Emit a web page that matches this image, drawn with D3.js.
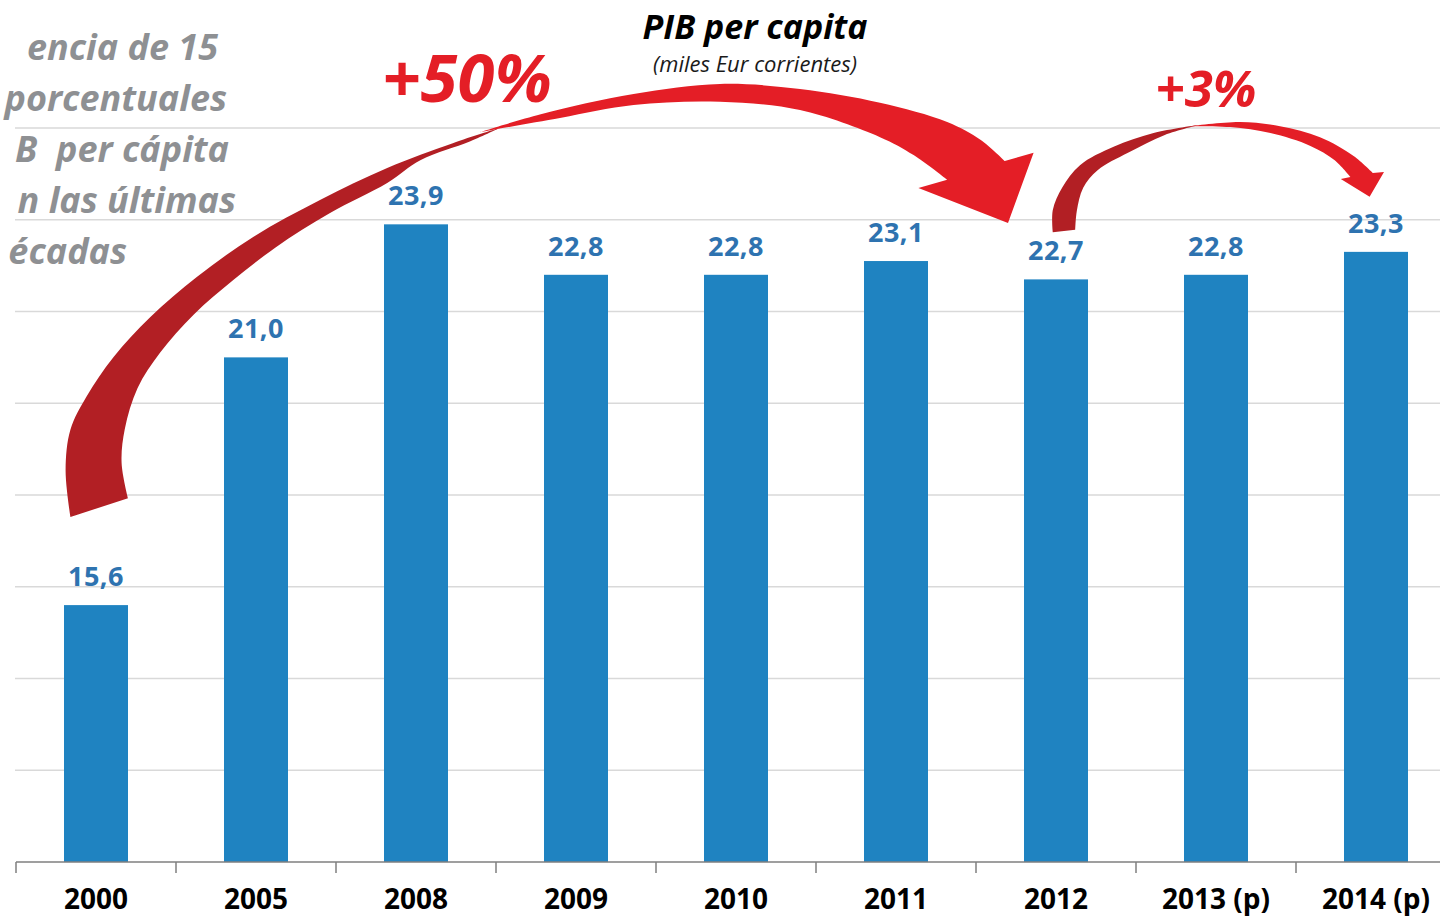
<!DOCTYPE html>
<html>
<head>
<meta charset="utf-8">
<script src="https://cdn.jsdelivr.net/npm/d3@7"></script>
<style>
  html, body { margin: 0; padding: 0; background: #fff; overflow: hidden; }
  text { font-family: "Open Sans", sans-serif; }
</style>
</head>
<body>
<svg id="chart" width="1440" height="918"></svg>
<script>
// data
const years = ["2000", "2005", "2008", "2009", "2010", "2011", "2012", "2013 (p)", "2014 (p)"]
const values = [15.6, 21.0, 23.9, 22.8, 22.8, 23.1, 22.7, 22.8, 23.3]
const gridValues = [12, 14, 16, 18, 20, 22, 24, 26]
// the note is cut by the left edge of the picture; only the visible part is kept
const noteLines = ["encia de 15", "porcentuales", "B  per cápita", "n las últimas", "écadas"]
const bigChange = "+50%"
const smallChange = "+3%"

// arrow outlines, as [bar offset from the first bar centre, value] pairs
const bigDarkOuter = [[-0.16, 17.52], [-0.19, 18.54], [-0.16, 19.42], [-0.06, 20.14], [0.11, 21.01], [0.34, 21.88],
  [0.63, 22.75], [0.98, 23.62], [1.40, 24.43], [1.82, 25.13], [2.23, 25.67], [2.53, 26.01]]
const bigDarkInner = [[2.53, 26.01], [2.34, 25.71], [2.03, 25.30], [1.82, 24.80], [1.46, 24.14], [1.12, 23.39],
  [0.86, 22.69], [0.61, 21.93], [0.40, 21.10], [0.26, 20.33], [0.18, 19.44], [0.16, 18.70], [0.20, 17.93]]
const bigRedUpper = [[2.40, 25.91], [2.78, 26.30], [3.36, 26.74], [3.90, 26.96], [4.40, 26.85], [4.90, 26.55],
  [5.32, 26.13], [5.53, 25.74], [5.68, 25.28]]
const bigRedHead = [[5.86, 25.46], [5.70, 23.93], [5.14, 24.69]]
const bigRedLower = [[5.32, 24.87], [5.11, 25.41], [4.90, 25.80], [4.40, 26.39], [3.90, 26.57], [3.36, 26.50],
  [2.90, 26.22], [2.40, 25.91]]

const smallDarkOuter = [[5.98, 23.73], [5.98, 24.21], [6.04, 24.71], [6.15, 25.19], [6.36, 25.59], [6.61, 25.89],
  [6.90, 26.07]]
const smallDarkInner = [[6.90, 26.07], [6.68, 25.85], [6.45, 25.46], [6.26, 25.08], [6.17, 24.70], [6.13, 24.19],
  [6.12, 23.78]]
const smallRedUpper = [[6.84, 26.04], [7.15, 26.13], [7.40, 26.04], [7.65, 25.80], [7.86, 25.39], [7.98, 25.02]]
const smallRedHead = [[8.05, 25.04], [7.96, 24.50], [7.78, 24.89]]
const smallRedLower = [[7.84, 24.93], [7.74, 25.30], [7.59, 25.61], [7.34, 25.89], [7.09, 26.02], [6.84, 26.04]]

const svg = d3.select("#chart")
const width = +svg.attr("width")

const x = d3.scaleBand().domain(years).range([16, 1456]).paddingInner(0.6).paddingOuter(0.3)
const y = d3.scaleLinear().domain([10, 26]).range([862, 128])
const fmt = v => d3.format(".1f")(v).replace(".", ",")

// position helper for the annotation shapes
const ax = i => x(years[0]) + x.bandwidth() / 2 + i * x.step()
const line = d3.line().x(d => ax(d[0])).y(d => y(d[1])).curve(d3.curveCatmullRom.alpha(0.5))
const straight = d3.line().x(d => ax(d[0])).y(d => y(d[1]))

// grid
svg.append("g")
  .selectAll("line")
  .data(gridValues)
  .join("line")
  .attr("x1", 15)
  .attr("x2", width)
  .attr("y1", d => y(d))
  .attr("y2", d => y(d))
  .attr("stroke", "#d9d9d9")
  .attr("stroke-width", 1.5)

// left note
const noteRight = [218, 227, 229, 236, 127]
const noteBase = [60, 111, 162, 213, 264]
svg.append("g")
  .selectAll("text")
  .data(noteLines)
  .join("text")
  .attr("x", (d, i) => noteRight[i])
  .attr("y", (d, i) => noteBase[i])
  .attr("text-anchor", "end")
  .style("white-space", "pre")
  .attr("font-size", "36px")
  .attr("font-weight", 700)
  .attr("font-style", "italic")
  .attr("fill", "#8e9093")
  .text(d => d)

// bars
svg.append("g")
  .selectAll("rect")
  .data(values)
  .join("rect")
  .attr("x", (d, i) => x(years[i]))
  .attr("y", d => y(d))
  .attr("width", x.bandwidth())
  .attr("height", d => y(10) - y(d))
  .attr("fill", "#1f83c1")

// value labels
svg.append("g")
  .selectAll("text")
  .data(values)
  .join("text")
  .attr("x", (d, i) => x(years[i]) + x.bandwidth() / 2)
  .attr("y", d => y(d) - 19)
  .attr("text-anchor", "middle")
  .attr("font-size", "27px")
  .attr("font-weight", 700)
  .attr("letter-spacing", "0.5px")
  .attr("fill", "#2e73b0")
  .text(d => fmt(d))

// x axis
const xAxis = svg.append("g")
xAxis.append("line")
  .attr("x1", 16).attr("x2", width)
  .attr("y1", y(10)).attr("y2", y(10))
  .attr("stroke", "#7f7f7f").attr("stroke-width", 1.5)
xAxis.selectAll("line.tick")
  .data(years)
  .join("line")
  .attr("class", "tick")
  .attr("x1", d => x(d) - x.step() * 0.3)
  .attr("x2", d => x(d) - x.step() * 0.3)
  .attr("y1", y(10))
  .attr("y2", y(10) + 11)
  .attr("stroke", "#7f7f7f").attr("stroke-width", 1.5)
xAxis.selectAll("text")
  .data(years)
  .join("text")
  .attr("x", d => x(d) + x.bandwidth() / 2)
  .attr("y", 909)
  .attr("text-anchor", "middle")
  .attr("font-size", "28px")
  .attr("font-weight", 700)
  .attr("fill", "#000")
  .text(d => d)

// title
svg.append("text")
  .attr("x", 755).attr("y", 39)
  .attr("text-anchor", "middle")
  .attr("font-size", "34px")
  .attr("font-weight", 700)
  .attr("font-style", "italic")
  .attr("fill", "#000")
  .text("PIB per capita")
svg.append("text")
  .attr("x", 755).attr("y", 72)
  .attr("text-anchor", "middle")
  .attr("font-size", "22px")
  .attr("font-style", "italic")
  .attr("fill", "#1a1a1a")
  .text("(miles Eur corrientes)")

// arrows
function ribbon(a, b) {
  return line(a) + line(b).replace(/^M/, "L") + "Z"
}
function arrow(upper, head, lower) {
  return line(upper) + straight(head).replace(/^M/, "L") + line(lower).replace(/^M/, "L") + "Z"
}
const arrows = svg.append("g")
arrows.append("path").attr("d", ribbon(bigDarkOuter, bigDarkInner)).attr("fill", "#b21f24")
arrows.append("path").attr("d", arrow(bigRedUpper, bigRedHead, bigRedLower)).attr("fill", "#e41e26")
arrows.append("path").attr("d", ribbon(smallDarkOuter, smallDarkInner)).attr("fill", "#b21f24")
arrows.append("path").attr("d", arrow(smallRedUpper, smallRedHead, smallRedLower)).attr("fill", "#e41e26")

// change labels
svg.append("text")
  .attr("x", 467).attr("y", 102)
  .attr("text-anchor", "middle")
  .attr("font-size", "67px")
  .attr("font-weight", 700)
  .attr("font-style", "italic")
  .attr("fill", "#e41e26")
  .text(bigChange)
svg.append("text")
  .attr("x", 1206).attr("y", 107)
  .attr("text-anchor", "middle")
  .attr("font-size", "51px")
  .attr("font-weight", 700)
  .attr("font-style", "italic")
  .attr("fill", "#e41e26")
  .text(smallChange)
</script>
</body>
</html>
